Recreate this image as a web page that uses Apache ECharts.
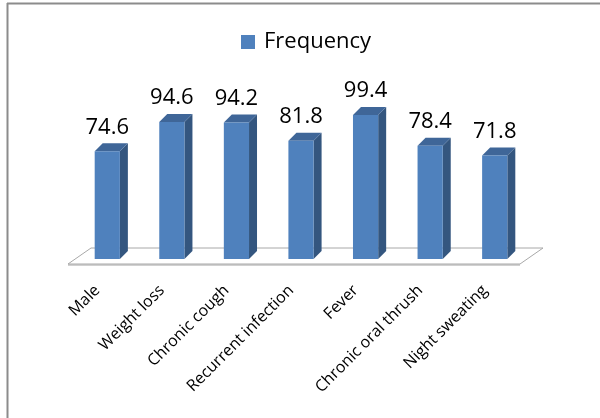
<!DOCTYPE html>
<html>
<head>
<meta charset="utf-8">
<script src="https://cdn.jsdelivr.net/npm/echarts@6/dist/echarts.min.js"></script>
<style>
  html, body { margin: 0; padding: 0; background: #fff; }
  #chart { width: 600px; height: 418px; }
</style>
</head>
<body>
<div id="chart"></div>
<script>
// 3D-looking column chart (Excel style): front face, dark side, top face, plus a floor slab
const CATS = ['Male', 'Weight loss', 'Chronic cough', 'Recurrent infection', 'Fever', 'Chronic oral thrush', 'Night sweating']
const FREQ = [74.6, 94.6, 94.2, 81.8, 99.4, 78.4, 71.8]
const SERIES_NAME = 'Frequency'

const FRONT = '#4f81bd', SIDE = '#34567f', TOP = '#3f6698'
const FONT = '"Open Sans", Lato, sans-serif'

const chart = echarts.init(document.getElementById('chart'))

function renderBar(params, api) {
  const i = api.value(0), v = api.value(1)
  const p = api.coord([i, v]), base = api.coord([i, 0])
  const w = api.size([1, 0])[0] * 0.39, d = 8
  const l = p[0] - w / 2, r = p[0] + w / 2, t = p[1], b = base[1] - 2
  return {
    type: 'group',
    children: [
      { type: 'polygon', shape: { points: [[r, t], [r + d, t - d], [r + d, b - d], [r, b]] }, style: { fill: SIDE } },
      { type: 'polygon', shape: { points: [[l, t], [l + d, t - d], [r + d, t - d], [r, t]] }, style: { fill: TOP } },
      { type: 'rect', shape: { x: l, y: t, width: w, height: b - t }, style: { fill: FRONT } },
      { type: 'text', style: { text: String(v), x: p[0], y: t - 13, align: 'center', verticalAlign: 'bottom',
          font: '22px ' + FONT, fill: '#000' } }
    ]
  }
}

function renderFloor(params, api) {
  const cs = params.coordSys
  const y0 = api.coord([0, 0])[1]
  const fl = cs.x - 7, fr = cs.x + cs.width - 7, fy = y0 + 3
  const dx = 23, dy = -16
  return {
    type: 'group',
    children: [
      { type: 'rect', shape: { x: fl, y: fy, width: fr - fl, height: 2 }, style: { fill: '#d0d0d0' } },
      { type: 'polygon', shape: { points: [[fl, fy], [fr, fy], [fr + dx, fy + dy], [fl + dx, fy + dy]] },
        style: { fill: '#fff', stroke: '#a8a8a8', lineWidth: 1 } }
    ]
  }
}

chart.setOption({
  animation: false,
  legend: {
    data: [SERIES_NAME], left: 241, top: 30, padding: 0,
    icon: 'rect', itemWidth: 14, itemHeight: 14,
    textStyle: { fontFamily: FONT, fontSize: 22, color: '#000', lineHeight: 24, padding: [0, 0, 0, 4] }
  },
  grid: { left: 75, right: 73, top: 114, bottom: 157 },
  xAxis: {
    type: 'category', data: CATS,
    axisLine: { show: false }, axisTick: { show: false }, splitLine: { show: false },
    axisLabel: { rotate: 45, margin: 17, interval: 0, padding: [0, 14, 0, 0],
      fontFamily: FONT, fontSize: 16, color: '#000' }
  },
  yAxis: { type: 'value', min: 0, max: 100, show: false },
  graphic: [
    { type: 'line', shape: { x1: 7.5, y1: 3, x2: 7.5, y2: 418 }, style: { stroke: '#8c8c8c', lineWidth: 2 } },
    { type: 'line', shape: { x1: 7, y1: 3.5, x2: 600, y2: 3.5 }, style: { stroke: '#8c8c8c', lineWidth: 2 } }
  ],
  series: [
    { type: 'custom', z: 1, silent: true, clip: false, renderItem: renderFloor, data: [[0, 0]] },
    { type: 'custom', name: SERIES_NAME, z: 2, clip: false, renderItem: renderBar,
      itemStyle: { color: FRONT }, encode: { x: 0, y: 1 },
      data: FREQ.map((v, i) => [i, v]) }
  ]
})
</script>
</body>
</html>
